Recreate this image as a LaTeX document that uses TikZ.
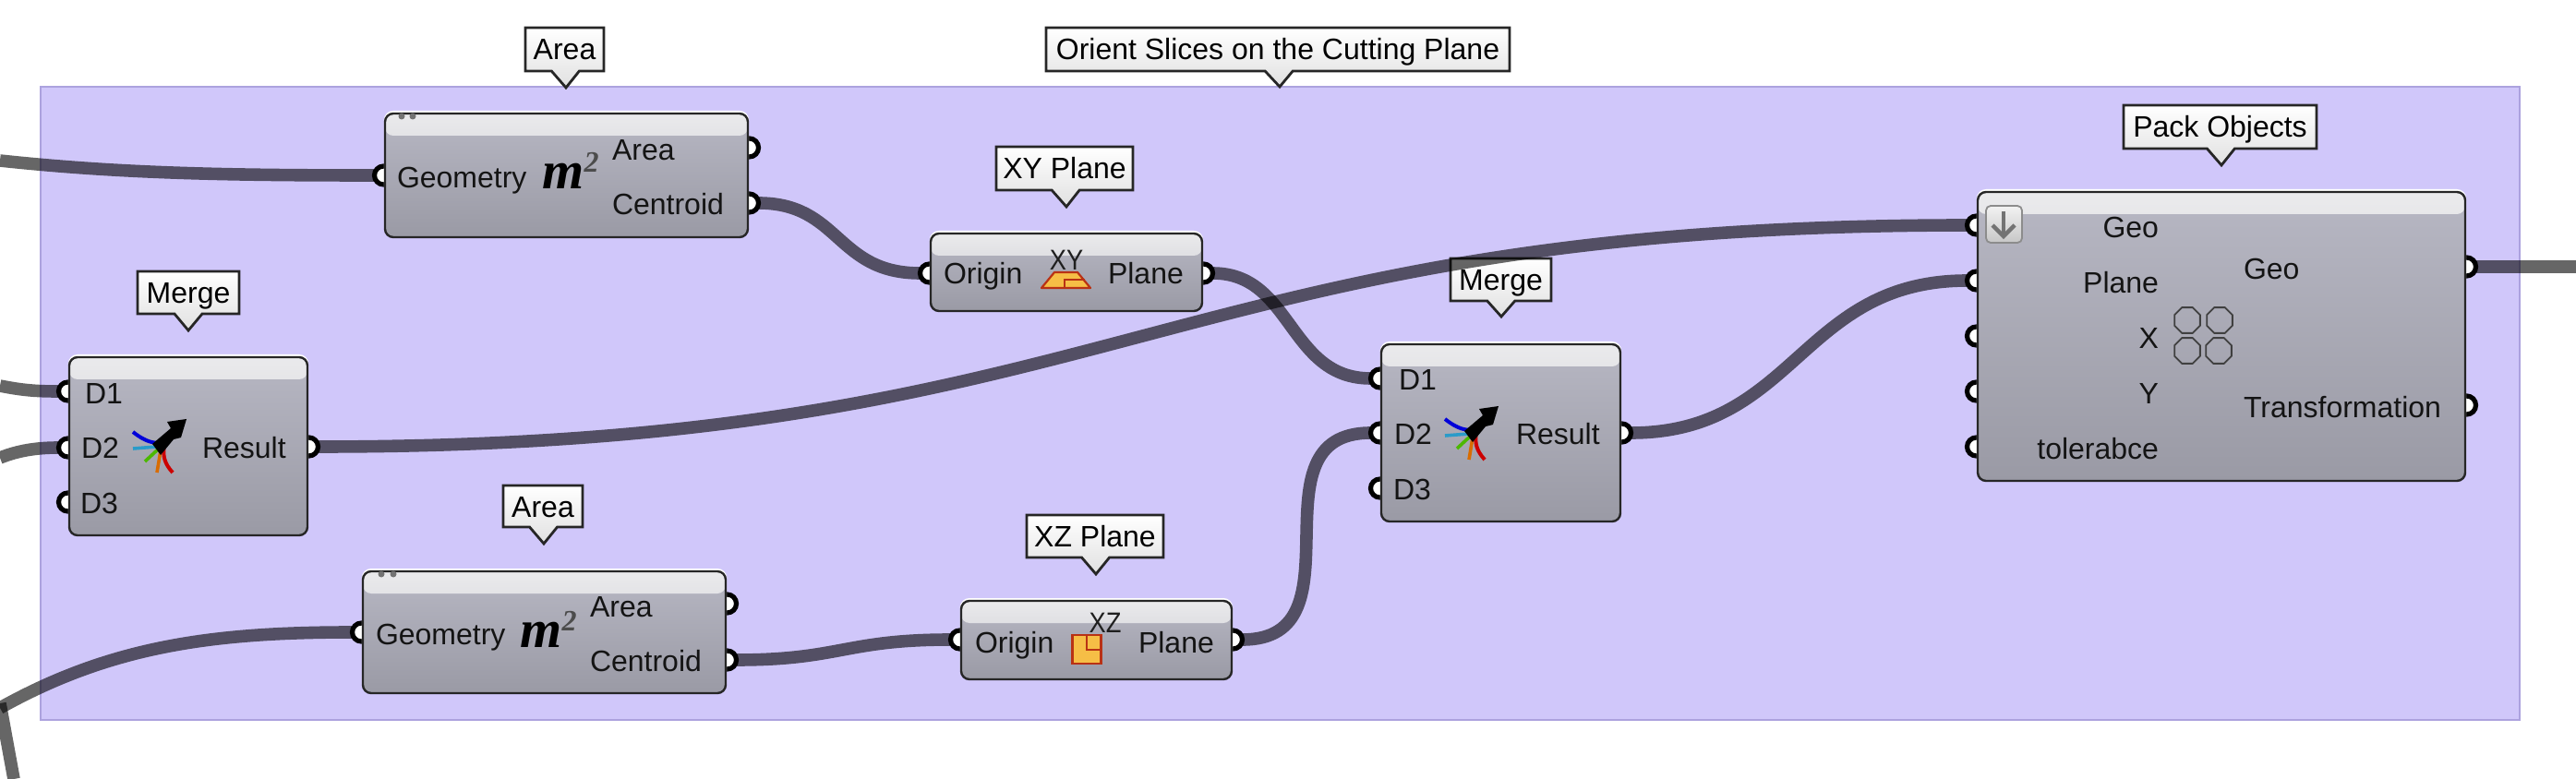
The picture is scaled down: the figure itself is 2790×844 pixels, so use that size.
\documentclass[tikz,border=0pt]{standalone}
\usepackage{fontspec}
\usepackage{xcolor}
\usepackage{tikz}
\usetikzlibrary{shapes.callouts, shapes.geometric}
\setmainfont{Liberation Sans}
\newfontfamily\areafont{Liberation Serif}

\definecolor{groupfill}{RGB}{208,199,250}
\definecolor{groupline}{RGB}{172,162,222}
\definecolor{bodytop}{RGB}{183,183,195}
\definecolor{bodybot}{RGB}{154,154,165}
\definecolor{bandtop}{RGB}{234,234,236}
\definecolor{bandbot}{RGB}{198,198,205}
\definecolor{compline}{RGB}{38,38,38}
\definecolor{iconfill}{RGB}{246,190,70}
\definecolor{iconline}{RGB}{185,50,20}

\newcommand{\msquare}{{\areafont\bfseries\itshape\fontsize{29}{29}\selectfont m\raisebox{9pt}{\fontsize{16}{16}\selectfont\color{black!70}2}}}

\tikzset{
    tag/.style={rectangle callout, draw=black!85, line width=1.4pt, top color=white, bottom color=black!12,
        callout pointer width=15pt, inner sep=0pt, outer sep=0pt, text height=11.5pt, text depth=0pt,
        font=\fontsize{16}{16}\selectfont},
    comp/.style={draw=compline, line width=1.2pt, rounded corners=4.5pt, inner sep=0pt, outer sep=0pt,
        top color=bodytop, bottom color=bodybot,
        preaction={draw=white, line width=1.2pt, transform canvas={yshift=.9pt}},
        path picture={\shade[top color=bandtop, bottom color=bandbot] (path picture bounding box.north west)
            rectangle ([yshift=-12pt]path picture bounding box.north east);}},
    port/.style={circle, draw=black, fill=white, line width=2.6pt, minimum size=10pt, inner sep=0pt, outer sep=0pt},
    wire/.style={draw=black, draw opacity=.6, line width=6.8pt},
    txt/.style={inner sep=0pt, outer sep=0pt, yshift=-2.5pt, text=black!92, font=\fontsize{16}{16}\selectfont},
    icontxt/.style={inner sep=0pt, outer sep=0pt, text=black!88, font=\fontsize{15.5}{15.5}\selectfont},
    dotmark/.style={circle, fill=black!55, minimum size=3.5pt, inner sep=0pt},
    mergeicon/.pic={
        \draw[blue!85!black, line width=2pt] (-28,-16) .. controls (-14,-5) and (-6,-4) .. (2,-4);
        \draw[cyan!60!teal, line width=1.8pt] (-28,2) -- (-2,0);
        \draw[green!60!black!70!yellow, line width=1.8pt] (-15,16) -- (0,2);
        \draw[orange!85!black, line width=1.8pt] (-2,28) -- (2,4);
        \draw[red!80!black, line width=2pt] (15,28) .. controls (6,18) and (4,10) .. (6,-2);
        \fill[black] (30,-30) -- (9,-27) -- (13,-20) -- (-7,-3) -- (2,9) -- (16,-8) -- (24,-10) -- cycle;
    }
}

\begin{document}
\begin{tikzpicture}[x=.5pt, y=-.5pt]
    \useasboundingbox (0,0) rectangle (2790,844);

    % group
    \node[draw=groupline, fill=groupfill, line width=.8pt, minimum width=1342.5pt, minimum height=343pt,
        inner sep=0pt, outer sep=0pt] (group) at (1386.5,437) {};

    % tags
    \node[tag, minimum width=251pt, minimum height=23.5pt, callout absolute pointer={(1386,94)}] (tagGroup) at (1384,53.5) {Orient Slices on the Cutting Plane};
    \node[tag, minimum width=42.5pt, minimum height=23.5pt, callout absolute pointer={(613,95)}] (tagAreaA) at (611.5,53.5) {Area};
    \node[tag, minimum width=74pt, minimum height=23.5pt, callout absolute pointer={(1155,224)}] (tagXY) at (1153,182.5) {XY Plane};
    \node[tag, minimum width=55pt, minimum height=23pt, callout absolute pointer={(204,358)}] (tagMergeA) at (204,317) {Merge};
    \node[tag, minimum width=54.5pt, minimum height=23pt, callout absolute pointer={(1626,343)}] (tagMergeB) at (1625.5,303) {Merge};
    \node[tag, minimum width=43pt, minimum height=22.5pt, callout absolute pointer={(589,589)}] (tagAreaB) at (588,548.5) {Area};
    \node[tag, minimum width=74pt, minimum height=23pt, callout absolute pointer={(1187,622)}] (tagXZ) at (1186,581) {XZ Plane};
    \node[tag, minimum width=104.5pt, minimum height=23.5pt, callout absolute pointer={(2406,179)}] (tagPack) at (2404.5,137.5) {Pack Objects};

    % ports
    \node[port] (areaAgeo) at (415.5,190) {};
    \node[port] (areaAarea) at (811.5,160) {};
    \node[port] (areaAcen) at (811.5,220) {};
    \node[port] (areaBgeo) at (391.5,685) {};
    \node[port] (areaBarea) at (787.5,654) {};
    \node[port] (areaBcen) at (787.5,715) {};
    \node[port] (xyOrigin) at (1006.5,296) {};
    \node[port] (xyPlane) at (1303.5,296) {};
    \node[port] (xzOrigin) at (1039.5,693) {};
    \node[port] (xzPlane) at (1335.5,693) {};
    \node[port] (mergeAd1) at (73.5,424) {};
    \node[port] (mergeAd2) at (73.5,485) {};
    \node[port] (mergeAd3) at (73.5,544) {};
    \node[port] (mergeAres) at (334.5,484) {};
    \node[port] (mergeBd1) at (1494.5,410) {};
    \node[port] (mergeBd2) at (1494.5,469) {};
    \node[port] (mergeBd3) at (1494.5,529) {};
    \node[port] (mergeBres) at (1756.5,469) {};
    \node[port] (packGeo) at (2140.5,244) {};
    \node[port] (packPlane) at (2140.5,304) {};
    \node[port] (packX) at (2140.5,364) {};
    \node[port] (packY) at (2140.5,424) {};
    \node[port] (packTol) at (2140.5,484) {};
    \node[port] (packOut) at (2671.5,289) {};
    \node[port] (packTrans) at (2671.5,439) {};

    % free ends
    \coordinate (inTop) at (0,174);
    \coordinate (inDa) at (0,418);
    \coordinate (inDb) at (0,496);
    \coordinate (inLow) at (0,767);
    \coordinate (inFork) at (0,762);
    \coordinate (outFork) at (15,844);
    \coordinate (outPack) at (2790,289);

    % wires
    \draw[wire] (inTop) .. controls (130,188) and (250,190) .. (areaAgeo.west);
    \draw[wire] (inDa) .. controls (25,423) and (40,424) .. (mergeAd1.west);
    \draw[wire] (inDb) .. controls (20,488) and (40,485) .. (mergeAd2.west);
    \draw[wire] (inLow) .. controls (120,700) and (230,685) .. (areaBgeo.west);
    \draw[wire] (inFork) -- (outFork);
    \draw[wire] (areaAcen.east) .. controls (910,220) and (905,296) .. (xyOrigin.west);
    \draw[wire] (xyPlane.east) .. controls (1400,296) and (1395,410) .. (mergeBd1.west);
    \draw[wire] (mergeAres.east) .. controls (1223,484) and (1252,244) .. (packGeo.west);
    \draw[wire] (areaBcen.east) .. controls (910,715) and (915,693) .. (xzOrigin.west);
    \draw[wire] (xzPlane.east) .. controls (1480,693) and (1350,469) .. (mergeBd2.west);
    \draw[wire] (mergeBres.east) .. controls (1945,469) and (1950,304) .. (packPlane.west);
    \draw[wire] (packOut.east) -- (outPack);

    % components
    \node[comp, minimum width=196.5pt, minimum height=67pt] (areaA) at (613.5,190) {};
    \node[comp, minimum width=196.5pt, minimum height=66pt] (areaB) at (589.5,685) {};
    \node[comp, minimum width=147pt, minimum height=42pt] (xy) at (1155,295) {};
    \node[comp, minimum width=146.5pt, minimum height=42.5pt] (xz) at (1187.5,693.5) {};
    \node[comp, minimum width=129pt, minimum height=96.5pt] (mergeA) at (204,483.5) {};
    \node[comp, minimum width=129.5pt, minimum height=96pt] (mergeB) at (1625.5,469) {};
    \node[comp, minimum width=264pt, minimum height=156.5pt] (pack) at (2406,364.5) {};

    % area
    \node[dotmark] (dotAa) at (435,126) {};
    \node[dotmark] (dotAb) at (447,126) {};
    \node[txt, anchor=mid west] (tGeoA) at (430,193) {Geometry};
    \node[inner sep=0pt, anchor=base west] (mA) at (587,205) {\msquare};
    \node[txt, anchor=mid west] (tAreaA) at (663,163) {Area};
    \node[txt, anchor=mid west] (tCenA) at (663,222) {Centroid};

    \node[dotmark] (dotBa) at (413,622) {};
    \node[dotmark] (dotBb) at (426,622) {};
    \node[txt, anchor=mid west] (tGeoB) at (407,688) {Geometry};
    \node[inner sep=0pt, anchor=base west] (mB) at (563,701) {\msquare};
    \node[txt, anchor=mid west] (tAreaB) at (639,658) {Area};
    \node[txt, anchor=mid west] (tCenB) at (639,717) {Centroid};

    % xy plane
    \node[txt, anchor=mid west] (tOrgXY) at (1022,297) {Origin};
    \node[txt, anchor=mid west] (tPlnXY) at (1200,297) {Plane};
    \node[icontxt] (tXY) at (1155,282) {\scalebox{.88}[1]{XY}};
    \draw[draw=iconline, fill=iconfill, line width=1.1pt, line join=round] (1142,295) -- (1167,295) -- (1181,312) -- (1128,312) -- cycle;
    \draw[draw=iconline, line width=1pt] (1153,311) -- (1153,303) -- (1175,303);

    % xz plane
    \node[txt, anchor=mid west] (tOrgXZ) at (1056,697) {Origin};
    \node[txt, anchor=mid west] (tPlnXZ) at (1233,697) {Plane};
    \node[icontxt] (tXZ) at (1197,675) {\scalebox{.88}[1]{XZ}};
    \node[draw=iconline, fill=iconfill, line width=1.1pt, minimum size=15.5pt, inner sep=0pt] (iconXZ) at (1177,703.5) {};
    \draw[draw=iconline, line width=1pt] (1177,688) -- (1177,704) -- (1193,704);

    % merge
    \node[txt, anchor=mid west] (tAd1) at (92,427) {D1};
    \node[txt, anchor=mid west] (tAd2) at (88,486) {D2};
    \node[txt, anchor=mid west] (tAd3) at (87,546) {D3};
    \node[txt, anchor=mid west] (tAres) at (219,486) {Result};
    \pic at (172,484) {mergeicon};

    \node[txt, anchor=mid west] (tBd1) at (1515,412) {D1};
    \node[txt, anchor=mid west] (tBd2) at (1510,471) {D2};
    \node[txt, anchor=mid west] (tBd3) at (1509,531) {D3};
    \node[txt, anchor=mid west] (tBres) at (1642,471) {Result};
    \pic at (1593,470) {mergeicon};

    % pack
    \node[draw=black!45, line width=.9pt, rounded corners=2.5pt, top color=black!5, bottom color=black!22,
        minimum width=19.5pt, minimum height=20pt, inner sep=0pt] (btn) at (2170.5,243) {};
    \draw[draw=black!55, line width=2.2pt] (2170,229) -- (2170,256);
    \draw[draw=black!55, line width=2.2pt] (2158,244) -- (2170,256) -- (2182,244);
    \node[txt, anchor=mid east] (tGeo) at (2338,247) {Geo};
    \node[txt, anchor=mid east] (tPlane) at (2338,307) {Plane};
    \node[txt, anchor=mid east] (tX) at (2338,367) {X};
    \node[txt, anchor=mid east] (tY) at (2338,427) {Y};
    \node[txt, anchor=mid east] (tTol) at (2338,487) {tolerabce};
    \node[txt, anchor=mid west] (tOut) at (2430,292) {Geo};
    \node[txt, anchor=mid west] (tTrans) at (2430,442) {Transformation};
    \node[regular polygon, regular polygon sides=8, draw=black!75, line width=.9pt, minimum size=15pt, inner sep=0pt] (octA) at (2369,347) {};
    \node[regular polygon, regular polygon sides=8, draw=black!75, line width=.9pt, minimum size=15pt, inner sep=0pt] (octB) at (2404,347) {};
    \node[regular polygon, regular polygon sides=8, draw=black!75, line width=.9pt, minimum size=15pt, inner sep=0pt] (octC) at (2369,380) {};
    \node[regular polygon, regular polygon sides=8, draw=black!75, line width=.9pt, minimum size=15pt, inner sep=0pt] (octD) at (2403,380) {};
\end{tikzpicture}
\end{document}
